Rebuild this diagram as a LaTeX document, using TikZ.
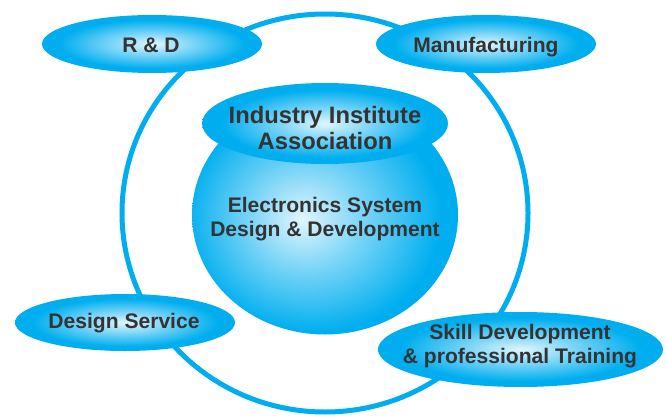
\documentclass[tikz,border=0pt]{standalone}
\usepackage{fontspec}
\setmainfont{Liberation Sans}
\usetikzlibrary{shapes.geometric}
\definecolor{skyc}{RGB}{0,174,239}
\definecolor{txtc}{RGB}{51,51,51}
\colorlet{skypale}{white!88!skyc}
\colorlet{skymid}{white!50!skyc}
\pgfdeclareradialshading{bubble}{\pgfpoint{0bp}{0bp}}{color(0bp)=(skypale); color(9bp)=(skymid); color(21bp)=(skyc); color(50bp)=(skyc)}
\pgfdeclareradialshading{globe}{\pgfpoint{-4.5bp}{-1bp}}{color(0bp)=(skypale); color(10bp)=(skymid); color(24bp)=(skyc); color(50bp)=(skyc)}
\begin{document}
\begin{tikzpicture}[x=0.75pt,y=0.75pt,yscale=-1,xscale=1,
  bubble/.style={ellipse,shading=bubble,inner sep=0pt},
  caption/.style={align=center,text=txtc,inner sep=0pt,font=\bfseries\fontsize{15.8}{18}\selectfont}]
\useasboundingbox (0,0) rectangle (666,417);

%Shape: Ellipse (outer ring)
\draw[skyc,line width=3.75pt] (325,213) ellipse [x radius=152.25pt,y radius=149.25pt];
%Shape: Ellipse (centre globe)
\node[bubble,shading=globe,minimum width=199.5pt,minimum height=179.25pt] (esdd) at (325,215) {};
\node[caption] (esddtxt) at (325,219.5) {Electronics System\\Design \& Development};
%Shape: Ellipse (lid)
\node[bubble,minimum width=184.5pt,minimum height=60.75pt] (iia) at (325,123.5) {};
\node[caption,font=\bfseries\fontsize{17.8}{19.5}\selectfont] (iiatxt) at (325,128.5) {Industry Institute\\Association};

%Shape: Ellipse
\node[bubble,minimum width=165pt,minimum height=43.5pt] (rnd) at (152,44) {};
\node[caption] (rndtxt) at (151,45) {R \& D};
%Shape: Ellipse
\node[bubble,minimum width=165pt,minimum height=43.5pt] (mfg) at (486,44) {};
\node[caption] (mfgtxt) at (486,47) {Manufacturing};
%Shape: Ellipse
\node[bubble,minimum width=165pt,minimum height=42.75pt] (dsv) at (125,322.5) {};
\node[caption] (dsvtxt) at (124,323.5) {Design Service};
%Shape: Ellipse
\node[bubble,minimum width=213.75pt,minimum height=56.25pt] (skill) at (520.5,349.5) {};
\node[caption] (skilltxt) at (520,346.5) {Skill Development\\\& professional Training};
\end{tikzpicture}
\end{document}
